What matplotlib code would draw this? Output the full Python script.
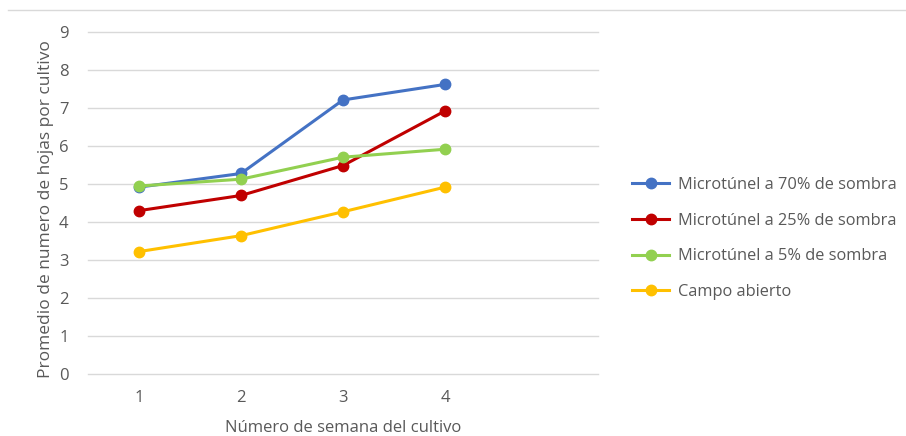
import matplotlib
matplotlib.use("Agg")
import matplotlib.pyplot as plt
from matplotlib.lines import Line2D

plt.rcParams['font.family'] = ['Open Sans', 'DejaVu Sans']

# datos
semanas = [1, 2, 3, 4]
sombra_70 = [4.92, 5.28, 7.22, 7.63]
sombra_25 = [4.30, 4.70, 5.49, 6.93]
sombra_5 = [4.95, 5.13, 5.71, 5.92]
campo_abierto = [3.22, 3.64, 4.27, 4.92]

series = [
    ("Microtúnel a 70% de sombra", sombra_70, "#4472C4"),
    ("Microtúnel a 25% de sombra", sombra_25, "#C00000"),
    ("Microtúnel a 5% de sombra", sombra_5, "#92D050"),
    ("Campo abierto", campo_abierto, "#FFC000"),
]

gris = "#595959"

fig = plt.figure(figsize=(9.06, 4.36), dpi=100)
ax = fig.add_axes([0.0971, 0.143, 0.563, 0.7825])

for nombre, valores, color in series:
    ax.plot(semanas, valores, color=color, linewidth=2.2, marker="o",
            markersize=7.5, label=nombre)

ax.set_xlim(0.5, 5.5)
ax.set_ylim(0, 9)
ax.set_xticks(semanas)
ax.set_yticks(range(0, 10))
ax.grid(axis="y", color="#d9d9d9", linewidth=1)
for g in ax.get_ygridlines():
    g.set_clip_on(False)
ax.set_axisbelow(True)
for s in ax.spines.values():
    s.set_visible(False)
ax.tick_params(length=0, colors=gris, labelsize=12, pad=12)
ax.tick_params(axis="y", pad=14)

ax.set_xlabel("Número de semana del cultivo", color=gris, fontsize=12, labelpad=10)
ax.set_ylabel("Promedio de numero de hojas por cultivo", color=gris, fontsize=12.5)
ax.yaxis.set_label_coords(-0.066, 0.483)

ley = ax.legend(loc="center left", bbox_to_anchor=(0.681, 0.453),
                bbox_transform=fig.transFigure, frameon=False,
                fontsize=11.8, labelspacing=1.2, handlelength=2.3,
                handletextpad=0.5, labelcolor=gris)

# linea superior del marco
fig.add_artist(Line2D([8 / 906, 1], [1 - 10 / 436, 1 - 10 / 436],
                      color="#d9d9d9", linewidth=1))

fig.savefig("out.png", dpi=100)
